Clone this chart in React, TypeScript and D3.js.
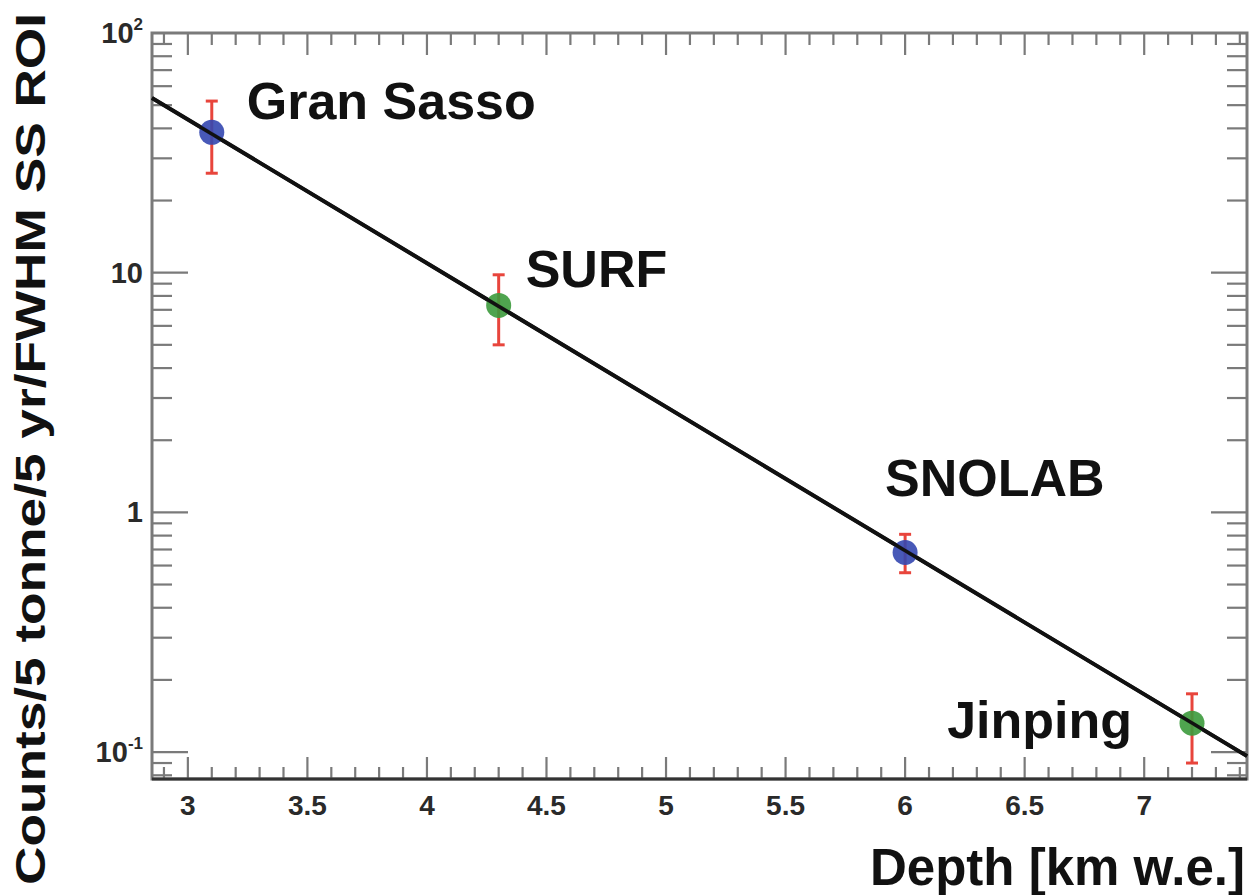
import * as d3 from "d3";
import { useEffect, useRef } from "react";

// sites, depth [km w.e.], counts and asymmetric errors
const sites = ["Gran Sasso", "SURF", "SNOLAB", "Jinping"];
const depths = [3.1, 4.3, 6.0, 7.2];
const counts = [38.5, 7.3, 0.68, 0.132];
const errHigh = [52, 9.8, 0.81, 0.175];
const errLow = [26, 5.0, 0.56, 0.09];
const markerColors = ["#3447b0", "#3c9a3c", "#3447b0", "#3c9a3c"];

// exponential fit, drawn as a straight segment on the log axis
const fitDepths = [2.85, 7.43];
const fitCounts = [53.6, 0.0962];

const xTickValues = [3, 3.5, 4, 4.5, 5, 5.5, 6, 6.5, 7];
const yDecades = [0.1, 1, 10, 100];

const W = 1250;
const H = 895;
const L = 152;
const R = 1247;
const T = 33;
const B = 779;

const App = () => {
    const svgRef = useRef<SVGSVGElement>(null);

    useEffect(() => {
        const svg = d3.select(svgRef.current);
        svg.selectAll("*").remove();

        const x = d3.scaleLinear().domain([2.85, 7.43]).range([L, R]);
        const y = d3.scaleLog().domain([0.0772, 100]).range([B, T]);

        const font = "'Liberation Sans', Arial, Helvetica, sans-serif";
        const frame = svg.append("g");

        // ticks on all four sides
        const ticks = svg.append("g").attr("stroke", "#7a7a7a").attr("stroke-width", 2.2);
        const xMinor = d3.range(29, 75).map((d) => d / 10).filter((d) => d >= 2.85 && d <= 7.43);
        xMinor.forEach((v) => {
            const major = Math.abs(v * 2 - Math.round(v * 2)) < 1e-6;
            const len = major ? 22 : 12;
            ticks.append("line").attr("x1", x(v)).attr("x2", x(v)).attr("y1", B).attr("y2", B - len);
            ticks.append("line").attr("x1", x(v)).attr("x2", x(v)).attr("y1", T).attr("y2", T + len);
        });
        const yMinor: number[] = [];
        [0.01, 0.1, 1, 10].forEach((dec) => {
            for (let k = 1; k <= 9; k++) yMinor.push(dec * k);
        });
        yMinor.push(100);
        yMinor
            .filter((v) => v >= 0.0772 && v <= 100.001)
            .forEach((v) => {
                const major = yDecades.some((d) => Math.abs(d - v) / d < 1e-6);
                const len = major ? 36 : 20;
                ticks.append("line").attr("x1", L).attr("x2", L + len).attr("y1", y(v)).attr("y2", y(v));
                ticks.append("line").attr("x1", R).attr("x2", R - len).attr("y1", y(v)).attr("y2", y(v));
            });

        // frame
        frame.append("rect")
            .attr("x", L).attr("y", T).attr("width", R - L).attr("height", B - T)
            .attr("fill", "none").attr("stroke", "#7a7a7a").attr("stroke-width", 3);
        svg.append("line").attr("x1", L).attr("x2", R).attr("y1", B).attr("y2", B)
            .attr("stroke", "#333").attr("stroke-width", 3);

        // x tick labels
        svg.append("g").selectAll("text").data(xTickValues).enter().append("text")
            .attr("x", (d) => x(d)).attr("y", 815)
            .attr("text-anchor", "middle")
            .attr("font-family", font).attr("font-size", 28).attr("font-weight", "bold")
            .attr("fill", "#2a2a2a")
            .text((d) => String(d));

        // y tick labels
        const yl = svg.append("g").attr("font-family", font).attr("font-weight", "bold").attr("fill", "#2a2a2a");
        yDecades.forEach((v) => {
            const t = yl.append("text").attr("x", 143).attr("y", y(v) + 10).attr("text-anchor", "end").attr("font-size", 29);
            if (v === 10) t.text("10");
            else if (v === 1) t.text("1");
            else {
                const exp = Math.round(Math.log10(v));
                t.append("tspan").text("10");
                t.append("tspan").attr("font-size", 17).attr("dy", -13).text(String(exp));
            }
        });

        // fit line
        svg.append("path")
            .datum(fitDepths.map((d, i) => [d, fitCounts[i]] as [number, number]))
            .attr("d", d3.line<[number, number]>().x((d) => x(d[0])).y((d) => y(d[1])))
            .attr("fill", "none").attr("stroke", "#111").attr("stroke-width", 4);

        // error bars and markers
        const pts = svg.append("g");
        depths.forEach((d, i) => {
            const cx = x(d);
            pts.append("line").attr("x1", cx).attr("x2", cx).attr("y1", y(errHigh[i])).attr("y2", y(errLow[i]))
                .attr("stroke", "#e8453c").attr("stroke-width", 3);
            [errHigh[i], errLow[i]].forEach((e) => {
                pts.append("line").attr("x1", cx - 6).attr("x2", cx + 6).attr("y1", y(e)).attr("y2", y(e))
                    .attr("stroke", "#e8453c").attr("stroke-width", 3);
            });
            pts.append("circle").attr("cx", cx).attr("cy", y(counts[i])).attr("r", 12.5)
                .attr("fill", markerColors[i]).attr("opacity", 0.9);
        });
        // redraw fit over markers, as in the original
        svg.append("path")
            .datum(fitDepths.map((d, i) => [d, fitCounts[i]] as [number, number]))
            .attr("d", d3.line<[number, number]>().x((d) => x(d[0])).y((d) => y(d[1])))
            .attr("fill", "none").attr("stroke", "#111").attr("stroke-width", 3.5);

        // site labels, offset from their points
        const offsets = [[35, -13, "start"], [27, -18, "start"], [-20, -57, "start"], [-60, 15, "end"]];
        sites.forEach((s, i) => {
            svg.append("text")
                .attr("x", x(depths[i]) + (offsets[i][0] as number))
                .attr("y", y(counts[i]) + (offsets[i][1] as number))
                .attr("text-anchor", offsets[i][2] as string)
                .attr("font-family", font).attr("font-size", 52).attr("font-weight", "bold")
                .attr("fill", "#111")
                .text(s);
        });

        // axis titles
        svg.append("text")
            .attr("x", 1245).attr("y", 885).attr("text-anchor", "end")
            .attr("font-family", font).attr("font-size", 51).attr("font-weight", "bold").attr("fill", "#111")
            .text("Depth [km w.e.]");
        svg.append("text")
            .attr("transform", "translate(45,885) rotate(-90)")
            .attr("font-family", font).attr("font-size", 42).attr("font-weight", "bold").attr("fill", "#111")
            .attr("textLength", 872).attr("lengthAdjust", "spacingAndGlyphs")
            .text("Counts/5 tonne/5 yr/FWHM SS ROI");
    }, []);

    return (
        <svg ref={svgRef} width={W} height={H}
            style={{ position: "absolute", left: 0, top: 0, background: "#fff" }} />
    );
};

export default App;
